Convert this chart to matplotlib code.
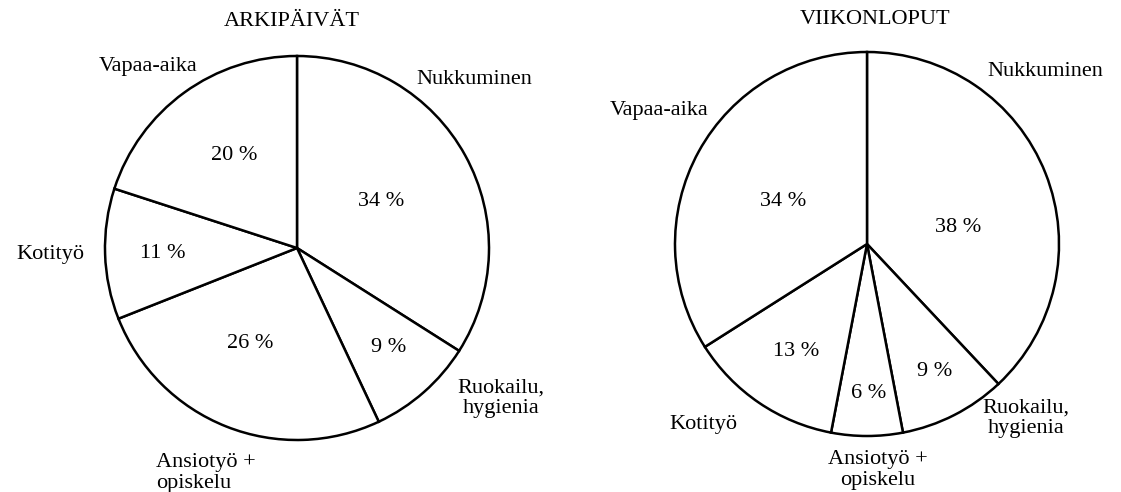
import matplotlib
matplotlib.use("Agg")
import matplotlib.pyplot as plt

plt.rcParams['font.family'] = ['Liberation Serif', 'DejaVu Serif']

# ---- data ----
categories = ["Nukkuminen", "Ruokailu,\nhygienia", "Ansiotyö +\nopiskelu", "Kotityö", "Vapaa-aika"]
titles = ["ARKIPÄIVÄT", "VIIKONLOPUT"]
weekdays = [34, 9, 26, 11, 20]
weekends = [38, 9, 6, 13, 34]
series = [weekdays, weekends]

# ---- layout (pixel coordinates, y from top) ----
W, H = 1121, 492
centers = [(297, 248), (867, 244)]
radius = 192
title_pos = [(292, 22), (875, 20)]
# category label positions: (x, y, ha)
label_pos = [
    [(474, 80, 'center'), (501, 398, 'center'), (156, 473, 'left'), (50, 254, 'center'), (148, 66, 'center')],
    [(1045, 72, 'center'), (1026, 418, 'center'), (878, 470, 'center'), (703, 424, 'center'), (659, 111, 'center')],
]
pct_pos = [
    [(381, 201), (389, 348), (250, 344), (163, 254), (234, 156)],
    [(958, 228), (935, 372), (869, 394), (796, 352), (783, 202)],
]

FS = 16

fig = plt.figure(figsize=(W / 100, H / 100), dpi=100)
ax = fig.add_axes([0, 0, 1, 1])

for i, vals in enumerate(series):
    cx, cy = centers[i]
    ax.pie(vals, center=(cx, H - cy), radius=radius, startangle=90,
           counterclock=False,
           wedgeprops=dict(facecolor='white', edgecolor='black', linewidth=1.8))
    ax.text(title_pos[i][0], H - title_pos[i][1], titles[i], ha='center', va='center',
            fontsize=FS)
    for (x, y, ha), lab in zip(label_pos[i], categories):
        ax.text(x, H - y, lab, ha=ha, va='center', fontsize=FS, multialignment=ha,
                linespacing=1.1)
    for (x, y), v in zip(pct_pos[i], vals):
        ax.text(x, H - y, f"{v} %", ha='center', va='center', fontsize=FS)

ax.set_xlim(0, W)
ax.set_ylim(0, H)
ax.set_aspect('equal')
ax.axis('off')
fig.savefig("out.png", dpi=100, facecolor='white')
